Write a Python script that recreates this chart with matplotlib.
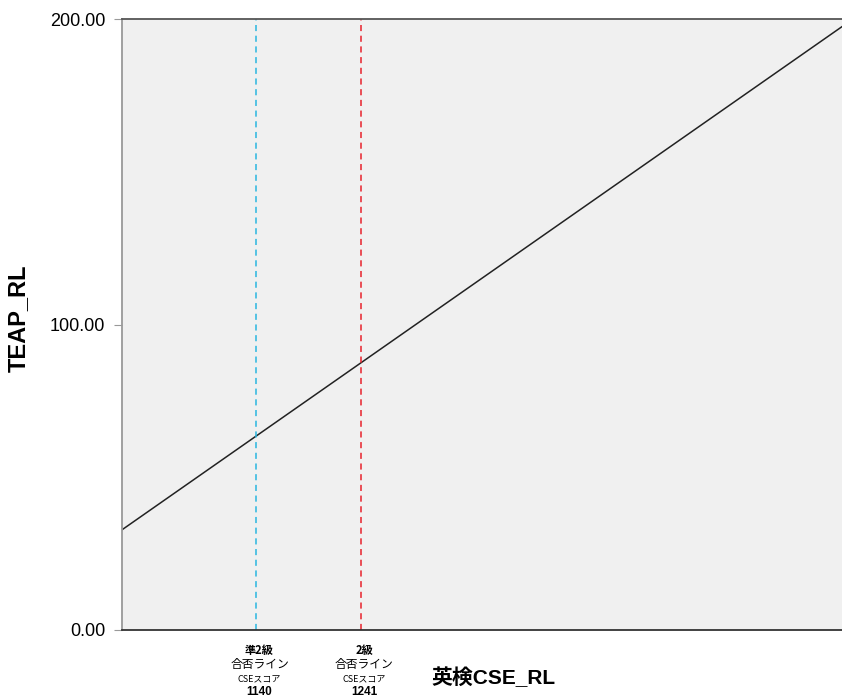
import matplotlib.pyplot as plt
import matplotlib.transforms as mtransforms

plt.rcParams['font.family'] = ['Liberation Sans', 'Noto Sans CJK JP', 'DejaVu Sans']
jp = ['Noto Sans CJK JP', 'DejaVu Sans']

# 回帰直線 (英検CSE_RL -> TEAP_RL)
line_x = [1010, 1706]
line_y = [32.8, 197.5]

# 合格ライン
cut_scores = [1140, 1241]
cut_colors = ['#29b6e0', '#e8212b']
cut_grades = ['準2級', '2級']

x_range = [1010, 1706]
y_ticks = [0, 100, 200]

fig = plt.figure(figsize=(8.42, 7.0), dpi=100)
ax = fig.add_axes([122 / 842, 70 / 700, 720 / 842, 611 / 700])
ax.set_facecolor('#f0f0f0')

ax.plot(line_x, line_y, color='#222222', lw=1.1)

for score, col in zip(cut_scores, cut_colors):
    ax.plot([score, score], [0, 200], color=col, lw=1.1, ls=(0, (4, 3)))

ax.set_xlim(x_range)
ax.set_ylim(0, 200)
ax.set_yticks(y_ticks)
ax.set_yticklabels([f'{v:.2f}' for v in y_ticks], fontsize=13)
ax.set_xticks([])
ax.tick_params(axis='y', length=6, color='#999999', pad=6)

ax.spines['right'].set_visible(False)
ax.spines['left'].set_color('#999999')
ax.spines['top'].set_color('#555555')
ax.spines['bottom'].set_color('#333333')
for s in ['left', 'top', 'bottom']:
    ax.spines[s].set_linewidth(1.3)

fig.text(18 / 842, 1 - 318 / 700, 'TEAP_RL', rotation=90, ha='center', va='center',
         fontsize=17, fontweight='bold')

trans = mtransforms.blended_transform_factory(ax.transData, ax.transAxes)
for score, grade in zip(cut_scores, cut_grades):
    x = score + 3
    ax.text(x, -0.033, grade, transform=trans, ha='center', va='center', fontsize=8, fontweight='bold', family=jp)
    ax.text(x, -0.057, '合否ライン', transform=trans, ha='center', va='center', fontsize=8.5, family=jp)
    ax.text(x, -0.080, 'CSEスコア', transform=trans, ha='center', va='center', fontsize=6.5, family=jp)
    ax.text(x, -0.102, str(score), transform=trans, ha='center', va='center', fontsize=8.5, fontweight='bold')

fig.text(494 / 842, 1 - 678 / 700, '英検CSE_RL', ha='center', va='center', fontsize=15, fontweight='bold')

fig.savefig('out.png', dpi=100)
